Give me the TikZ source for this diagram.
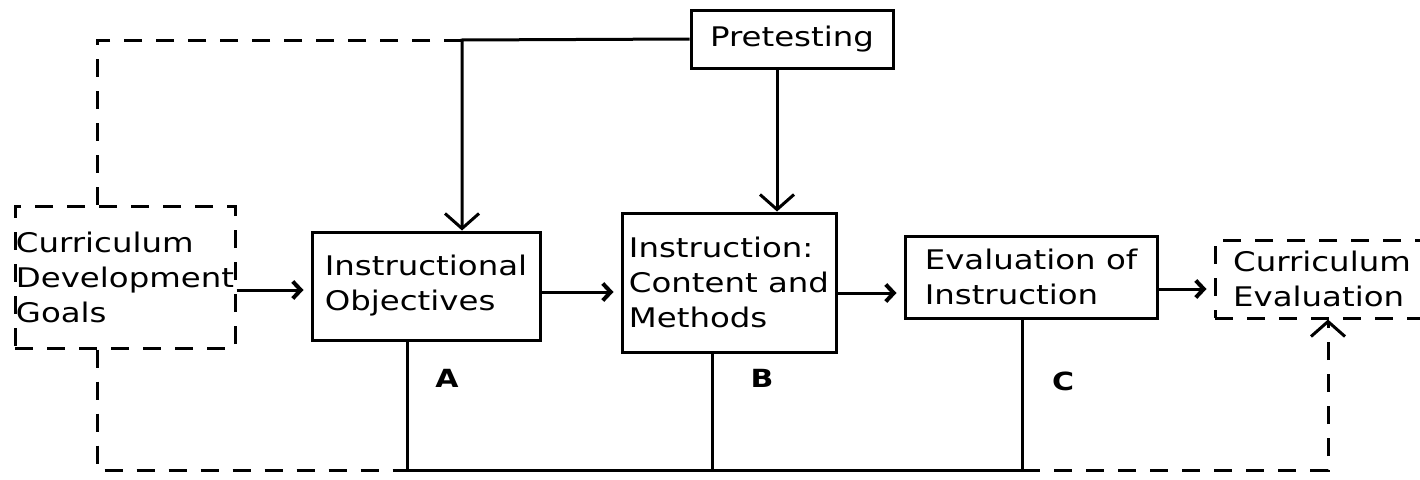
\documentclass[tikz,border=0pt]{standalone}
\usepackage{fontspec}
\setmainfont[FakeStretch=1.2]{DejaVu Sans}
\usetikzlibrary{positioning}
\usetikzlibrary{arrows.meta}
\tikzset{
        box/.style={draw,rectangle,align=left,inner sep=0pt,font=\fontsize{27}{35}\selectfont},
        dashbox/.style={box,dash pattern=on 18pt off 14pt},
        feedback/.style={dash pattern=on 18pt off 14pt},
        link/.style={-{Straight Barb[length=8pt,width=17pt,line width=4pt]},shorten >=7pt},
        drop/.style={-{Straight Barb[length=15pt,width=34pt]}},
        tag/.style={font=\bfseries\fontsize{25}{30}\selectfont},
        }

\begin{document}
\begin{tikzpicture}[x=1pt,y=-1pt,line width=3pt]
			\useasboundingbox (0,0) rectangle (1420,479);

			% boxes
			\node [dashbox, minimum width=220pt, minimum height=142pt] (cdg) at (125,277) {Curriculum\\Development\\Goals};
			\node [box, minimum width=228pt, minimum height=108pt] (obj) at (426,286) {Instructional\\Objectives};
			\node [box, minimum width=214pt, minimum height=139pt] (inst) at (729,282.5) {Instruction:\\Content and\\Methods};
			\node [box, minimum width=252pt, minimum height=82pt] (eval) at (1031,277) {Evaluation of\\Instruction};
			\node [dashbox, minimum width=214pt, minimum height=78pt] (ceval) at (1322,279) {Curriculum\\Evaluation};
			\node [box, align=center, minimum width=202pt, minimum height=58pt] (pre) at (792,39) {Pretesting};

			% forward arrows
			\draw [link] ([yshift=-13pt]cdg.east) -- ([yshift=-13pt]cdg.east -| obj.west);
			\draw [link] ([yshift=-6pt]obj.east) -- ([yshift=-6pt]obj.east -| inst.west);
			\draw [link] ([yshift=-16pt]eval.west -| inst.east) -- ([yshift=-16pt]eval.west);
			\draw [link] ([yshift=-12pt]eval.east) -- ([yshift=-12pt]eval.east -| ceval.west);

			% pretesting
			\coordinate (bend) at (462,40);
			\draw [drop] (pre.west) -- (bend) -- (bend |- obj.north);
			\draw [drop] ([xshift=-15pt]pre.south) -- ([xshift=-15pt]pre.south |- inst.north);

			% dashed loop on top
			\coordinate (topleft) at (97,40);
			\draw [feedback] (bend) -- (topleft) -- (topleft |- cdg.north);

			% bottom lines
			\coordinate (botleft) at (97,470);
			\coordinate (ja) at (407,470);
			\coordinate (jb) at (712,470);
			\coordinate (jc) at (1022,470);
			\coordinate (botright) at (1328,470);
			\draw [feedback] (botleft |- cdg.south) -- (botleft) -- (ja);
			\draw (ja |- obj.south) -- (ja) -- (jc) -- (jc |- eval.south);
			\draw (jb |- inst.south) -- (jb);
			\draw [feedback, drop] (jc) -- (botright) -- (botright |- ceval.south);

			% labels
			\node [tag] (la) at (447,378) {A};
			\node [tag] (lb) at (762,378) {B};
			\node [tag] (lc) at (1063,381) {C};
		\end{tikzpicture}
\end{document}
